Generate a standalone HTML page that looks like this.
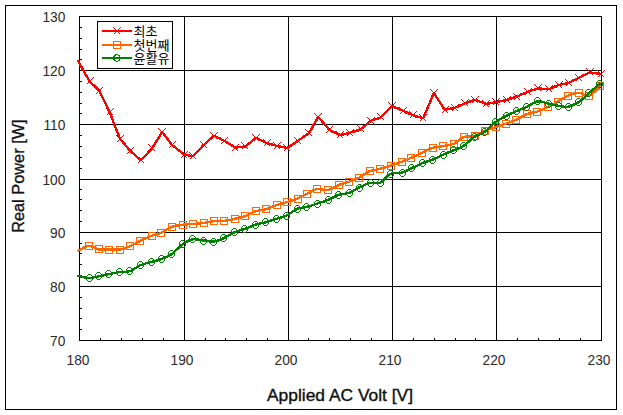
<!DOCTYPE html><html><head><meta charset="utf-8"><title>chart</title>
<style>html,body{margin:0;padding:0;background:#fff;overflow:hidden}svg{display:block}text{font-family:"Liberation Sans",sans-serif;fill:#111}</style></head><body>
<svg width="623" height="415" viewBox="0 0 623 415">
<rect x="0" y="0" width="623" height="415" fill="#fff"/>
<g shape-rendering="crispEdges" stroke="#000" stroke-width="1" fill="none">
<rect x="5.5" y="5.5" width="611" height="404"/>
<line x1="184.5" y1="16.5" x2="184.5" y2="340.5"/>
<line x1="288.5" y1="16.5" x2="288.5" y2="340.5"/>
<line x1="392.5" y1="16.5" x2="392.5" y2="340.5"/>
<line x1="496.5" y1="16.5" x2="496.5" y2="340.5"/>
<line x1="79.5" y1="70.5" x2="601.5" y2="70.5"/>
<line x1="79.5" y1="124.5" x2="601.5" y2="124.5"/>
<line x1="79.5" y1="179.5" x2="601.5" y2="179.5"/>
<line x1="79.5" y1="232.5" x2="601.5" y2="232.5"/>
<line x1="79.5" y1="286.5" x2="601.5" y2="286.5"/>
<line x1="80.0" y1="27.5" x2="82.0" y2="27.5"/>
<line x1="80.0" y1="38.5" x2="82.0" y2="38.5"/>
<line x1="80.0" y1="49.5" x2="82.0" y2="49.5"/>
<line x1="80.0" y1="59.5" x2="82.0" y2="59.5"/>
<line x1="80.0" y1="81.5" x2="82.0" y2="81.5"/>
<line x1="80.0" y1="92.5" x2="82.0" y2="92.5"/>
<line x1="80.0" y1="103.5" x2="82.0" y2="103.5"/>
<line x1="80.0" y1="113.5" x2="82.0" y2="113.5"/>
<line x1="80.0" y1="135.5" x2="82.0" y2="135.5"/>
<line x1="80.0" y1="146.5" x2="82.0" y2="146.5"/>
<line x1="80.0" y1="157.5" x2="82.0" y2="157.5"/>
<line x1="80.0" y1="168.5" x2="82.0" y2="168.5"/>
<line x1="80.0" y1="189.5" x2="82.0" y2="189.5"/>
<line x1="80.0" y1="199.5" x2="82.0" y2="199.5"/>
<line x1="80.0" y1="210.5" x2="82.0" y2="210.5"/>
<line x1="80.0" y1="221.5" x2="82.0" y2="221.5"/>
<line x1="80.0" y1="243.5" x2="82.0" y2="243.5"/>
<line x1="80.0" y1="253.5" x2="82.0" y2="253.5"/>
<line x1="80.0" y1="264.5" x2="82.0" y2="264.5"/>
<line x1="80.0" y1="275.5" x2="82.0" y2="275.5"/>
<line x1="80.0" y1="297.5" x2="82.0" y2="297.5"/>
<line x1="80.0" y1="308.5" x2="82.0" y2="308.5"/>
<line x1="80.0" y1="318.5" x2="82.0" y2="318.5"/>
<line x1="80.0" y1="329.5" x2="82.0" y2="329.5"/>
<line x1="100.5" y1="340.0" x2="100.5" y2="338.0"/>
<line x1="121.5" y1="340.0" x2="121.5" y2="338.0"/>
<line x1="142.5" y1="340.0" x2="142.5" y2="338.0"/>
<line x1="163.5" y1="340.0" x2="163.5" y2="338.0"/>
<line x1="205.5" y1="340.0" x2="205.5" y2="338.0"/>
<line x1="225.5" y1="340.0" x2="225.5" y2="338.0"/>
<line x1="246.5" y1="340.0" x2="246.5" y2="338.0"/>
<line x1="267.5" y1="340.0" x2="267.5" y2="338.0"/>
<line x1="308.5" y1="340.0" x2="308.5" y2="338.0"/>
<line x1="329.5" y1="340.0" x2="329.5" y2="338.0"/>
<line x1="350.5" y1="340.0" x2="350.5" y2="338.0"/>
<line x1="371.5" y1="340.0" x2="371.5" y2="338.0"/>
<line x1="413.5" y1="340.0" x2="413.5" y2="338.0"/>
<line x1="434.5" y1="340.0" x2="434.5" y2="338.0"/>
<line x1="455.5" y1="340.0" x2="455.5" y2="338.0"/>
<line x1="475.5" y1="340.0" x2="475.5" y2="338.0"/>
<line x1="517.5" y1="340.0" x2="517.5" y2="338.0"/>
<line x1="538.5" y1="340.0" x2="538.5" y2="338.0"/>
<line x1="559.5" y1="340.0" x2="559.5" y2="338.0"/>
<line x1="580.5" y1="340.0" x2="580.5" y2="338.0"/>
<rect x="79.5" y="16.5" width="522.0" height="324.0"/>
</g>
<clipPath id="pc"><rect x="76.5" y="16.0" width="530.5" height="325.0"/></clipPath>
<g clip-path="url(#pc)" fill="none" shape-rendering="crispEdges">
<path d="M78.3,61.3 L89.5,81.4 L99.3,90.7 L109.6,112.2 L119.9,138.7 L130.1,150.8 L140.9,160.2 L152.1,148.4 L162.2,131.8 L172.1,145.0 L184.4,154.7 L192.7,156.1 L204.0,144.7 L214.0,135.7 L223.8,140.5 L235.4,147.7 L245.4,146.4 L256.0,137.8 L266.5,143.1 L277.0,145.9 L287.4,148.0 L298.0,140.8 L309.0,133.0 L318.2,116.9 L329.4,129.9 L340.4,135.1 L350.0,132.7 L361.0,129.2 L370.9,120.7 L380.8,117.4 L392.1,105.8 L402.9,110.8 L413.0,115.2 L423.1,118.3 L433.9,93.2 L444.7,109.7 L454.9,107.9 L464.8,103.4 L475.0,99.7 L485.9,103.9 L496.3,102.2 L506.8,99.8 L516.9,96.5 L527.5,92.0 L537.9,88.3 L548.5,89.3 L559.1,84.9 L568.7,83.0 L579.0,77.9 L589.8,72.4 L601.3,74.1" stroke="#ff0000" stroke-width="2.4" stroke-linejoin="round" stroke-linecap="round"/>
<path d="M86.5,77.5 L93.5,84.5 M86.5,84.5 L93.5,77.5" stroke="#ff0000" stroke-width="1" fill="none"/><path d="M95.5,87.5 L102.5,94.5 M95.5,94.5 L102.5,87.5" stroke="#ff0000" stroke-width="1" fill="none"/><path d="M106.5,108.5 L113.5,115.5 M106.5,115.5 L113.5,108.5" stroke="#ff0000" stroke-width="1" fill="none"/><path d="M116.5,135.5 L123.5,142.5 M116.5,142.5 L123.5,135.5" stroke="#ff0000" stroke-width="1" fill="none"/><path d="M126.5,147.5 L133.5,154.5 M126.5,154.5 L133.5,147.5" stroke="#ff0000" stroke-width="1" fill="none"/><path d="M137.5,156.5 L144.5,163.5 M137.5,163.5 L144.5,156.5" stroke="#ff0000" stroke-width="1" fill="none"/><path d="M148.5,144.5 L155.5,151.5 M148.5,151.5 L155.5,144.5" stroke="#ff0000" stroke-width="1" fill="none"/><path d="M158.5,128.5 L165.5,135.5 M158.5,135.5 L165.5,128.5" stroke="#ff0000" stroke-width="1" fill="none"/><path d="M168.5,141.5 L175.5,148.5 M168.5,148.5 L175.5,141.5" stroke="#ff0000" stroke-width="1" fill="none"/><path d="M180.5,151.5 L187.5,158.5 M180.5,158.5 L187.5,151.5" stroke="#ff0000" stroke-width="1" fill="none"/><path d="M189.5,152.5 L196.5,159.5 M189.5,159.5 L196.5,152.5" stroke="#ff0000" stroke-width="1" fill="none"/><path d="M200.5,141.5 L207.5,148.5 M200.5,148.5 L207.5,141.5" stroke="#ff0000" stroke-width="1" fill="none"/><path d="M210.5,132.5 L217.5,139.5 M210.5,139.5 L217.5,132.5" stroke="#ff0000" stroke-width="1" fill="none"/><path d="M220.5,137.5 L227.5,144.5 M220.5,144.5 L227.5,137.5" stroke="#ff0000" stroke-width="1" fill="none"/><path d="M231.5,144.5 L238.5,151.5 M231.5,151.5 L238.5,144.5" stroke="#ff0000" stroke-width="1" fill="none"/><path d="M241.5,142.5 L248.5,149.5 M241.5,149.5 L248.5,142.5" stroke="#ff0000" stroke-width="1" fill="none"/><path d="M252.5,134.5 L259.5,141.5 M252.5,141.5 L259.5,134.5" stroke="#ff0000" stroke-width="1" fill="none"/><path d="M263.5,139.5 L270.5,146.5 M263.5,146.5 L270.5,139.5" stroke="#ff0000" stroke-width="1" fill="none"/><path d="M273.5,142.5 L280.5,149.5 M273.5,149.5 L280.5,142.5" stroke="#ff0000" stroke-width="1" fill="none"/><path d="M283.5,144.5 L290.5,151.5 M283.5,151.5 L290.5,144.5" stroke="#ff0000" stroke-width="1" fill="none"/><path d="M294.5,137.5 L301.5,144.5 M294.5,144.5 L301.5,137.5" stroke="#ff0000" stroke-width="1" fill="none"/><path d="M305.5,129.5 L312.5,136.5 M305.5,136.5 L312.5,129.5" stroke="#ff0000" stroke-width="1" fill="none"/><path d="M314.5,113.5 L321.5,120.5 M314.5,120.5 L321.5,113.5" stroke="#ff0000" stroke-width="1" fill="none"/><path d="M325.5,126.5 L332.5,133.5 M325.5,133.5 L332.5,126.5" stroke="#ff0000" stroke-width="1" fill="none"/><path d="M336.5,131.5 L343.5,138.5 M336.5,138.5 L343.5,131.5" stroke="#ff0000" stroke-width="1" fill="none"/><path d="M346.5,129.5 L353.5,136.5 M346.5,136.5 L353.5,129.5" stroke="#ff0000" stroke-width="1" fill="none"/><path d="M357.5,125.5 L364.5,132.5 M357.5,132.5 L364.5,125.5" stroke="#ff0000" stroke-width="1" fill="none"/><path d="M367.5,117.5 L374.5,124.5 M367.5,124.5 L374.5,117.5" stroke="#ff0000" stroke-width="1" fill="none"/><path d="M377.5,113.5 L384.5,120.5 M377.5,120.5 L384.5,113.5" stroke="#ff0000" stroke-width="1" fill="none"/><path d="M388.5,102.5 L395.5,109.5 M388.5,109.5 L395.5,102.5" stroke="#ff0000" stroke-width="1" fill="none"/><path d="M399.5,107.5 L406.5,114.5 M399.5,114.5 L406.5,107.5" stroke="#ff0000" stroke-width="1" fill="none"/><path d="M409.5,111.5 L416.5,118.5 M409.5,118.5 L416.5,111.5" stroke="#ff0000" stroke-width="1" fill="none"/><path d="M419.5,114.5 L426.5,121.5 M419.5,121.5 L426.5,114.5" stroke="#ff0000" stroke-width="1" fill="none"/><path d="M430.5,89.5 L437.5,96.5 M430.5,96.5 L437.5,89.5" stroke="#ff0000" stroke-width="1" fill="none"/><path d="M441.5,106.5 L448.5,113.5 M441.5,113.5 L448.5,106.5" stroke="#ff0000" stroke-width="1" fill="none"/><path d="M451.5,104.5 L458.5,111.5 M451.5,111.5 L458.5,104.5" stroke="#ff0000" stroke-width="1" fill="none"/><path d="M461.5,99.5 L468.5,106.5 M461.5,106.5 L468.5,99.5" stroke="#ff0000" stroke-width="1" fill="none"/><path d="M471.5,96.5 L478.5,103.5 M471.5,103.5 L478.5,96.5" stroke="#ff0000" stroke-width="1" fill="none"/><path d="M482.5,100.5 L489.5,107.5 M482.5,107.5 L489.5,100.5" stroke="#ff0000" stroke-width="1" fill="none"/><path d="M492.5,98.5 L499.5,105.5 M492.5,105.5 L499.5,98.5" stroke="#ff0000" stroke-width="1" fill="none"/><path d="M503.5,96.5 L510.5,103.5 M503.5,103.5 L510.5,96.5" stroke="#ff0000" stroke-width="1" fill="none"/><path d="M513.5,93.5 L520.5,100.5 M513.5,100.5 L520.5,93.5" stroke="#ff0000" stroke-width="1" fill="none"/><path d="M524.5,88.5 L531.5,95.5 M524.5,95.5 L531.5,88.5" stroke="#ff0000" stroke-width="1" fill="none"/><path d="M534.5,84.5 L541.5,91.5 M534.5,91.5 L541.5,84.5" stroke="#ff0000" stroke-width="1" fill="none"/><path d="M545.5,85.5 L552.5,92.5 M545.5,92.5 L552.5,85.5" stroke="#ff0000" stroke-width="1" fill="none"/><path d="M555.5,81.5 L562.5,88.5 M555.5,88.5 L562.5,81.5" stroke="#ff0000" stroke-width="1" fill="none"/><path d="M565.5,79.5 L572.5,86.5 M565.5,86.5 L572.5,79.5" stroke="#ff0000" stroke-width="1" fill="none"/><path d="M575.5,74.5 L582.5,81.5 M575.5,81.5 L582.5,74.5" stroke="#ff0000" stroke-width="1" fill="none"/><path d="M586.5,68.5 L593.5,75.5 M586.5,75.5 L593.5,68.5" stroke="#ff0000" stroke-width="1" fill="none"/><path d="M597.5,70.5 L604.5,77.5 M597.5,77.5 L604.5,70.5" stroke="#ff0000" stroke-width="1" fill="none"/>
<path d="M78.5,250.6 C80.2,249.8 85.6,246.0 89.0,245.8 C92.4,245.6 95.6,248.8 98.9,249.4 C102.2,250.0 105.1,249.5 108.6,249.5 C112.0,249.5 116.0,250.0 119.6,249.5 C123.2,249.0 126.5,247.8 130.0,246.3 C133.5,244.8 136.8,242.6 140.4,240.8 C144.0,239.0 148.3,237.0 151.7,235.7 C155.1,234.4 157.7,234.4 161.0,232.9 C164.3,231.4 167.9,228.3 171.6,226.9 C175.2,225.5 179.3,225.2 182.9,224.7 C186.5,224.2 189.6,224.3 193.1,224.0 C196.6,223.7 200.3,223.5 203.8,223.0 C207.3,222.5 210.6,221.5 214.0,221.1 C217.4,220.7 220.7,221.2 224.2,220.8 C227.7,220.4 231.5,219.6 235.0,218.8 C238.5,218.0 241.8,217.4 245.2,216.1 C248.6,214.8 252.3,212.3 255.7,211.2 C259.1,210.1 262.2,210.3 265.8,209.3 C269.4,208.3 273.5,206.2 277.0,205.0 C280.5,203.8 283.4,203.2 286.8,202.1 C290.2,201.0 294.1,199.9 297.5,198.5 C300.9,197.1 303.6,195.4 306.9,193.8 C310.2,192.2 313.7,189.6 317.2,189.0 C320.7,188.4 324.4,190.8 328.0,190.1 C331.6,189.4 335.4,186.4 338.9,185.0 C342.4,183.6 345.6,182.9 349.0,181.7 C352.4,180.5 355.7,179.3 359.1,177.6 C362.6,175.8 366.2,172.6 369.7,171.2 C373.1,169.8 376.3,169.8 379.8,168.9 C383.3,168.0 387.1,166.9 390.7,165.7 C394.3,164.5 398.2,163.1 401.6,161.8 C405.0,160.5 407.6,159.4 411.0,157.9 C414.4,156.4 418.5,154.5 422.1,152.8 C425.8,151.1 429.4,148.9 432.9,147.8 C436.4,146.7 439.6,146.8 443.0,146.1 C446.4,145.4 450.1,145.4 453.6,143.9 C457.1,142.4 460.5,138.2 464.0,136.9 C467.5,135.6 471.1,137.1 474.5,136.1 C477.9,135.1 481.1,132.3 484.6,130.8 C488.1,129.3 492.1,128.4 495.7,127.2 C499.3,126.0 502.7,124.8 506.1,123.6 C509.5,122.4 512.8,121.5 516.2,119.9 C519.6,118.3 523.2,115.5 526.7,114.1 C530.2,112.7 533.6,112.9 537.1,111.7 C540.6,110.5 544.5,108.4 548.0,106.7 C551.5,105.0 554.7,103.3 558.0,101.5 C561.3,99.7 564.6,97.1 568.0,95.6 C571.4,94.1 575.1,92.7 578.6,92.7 C582.1,92.7 585.2,96.8 588.8,95.8 C592.4,94.8 598.3,88.0 600.2,86.4" stroke="#ff6600" stroke-width="2.4" stroke-linecap="round"/>
<rect x="85.5" y="242.5" width="7.0" height="7.0" stroke="#ff6600" stroke-width="1" fill="none"/><rect x="95.5" y="245.5" width="7.0" height="7.0" stroke="#ff6600" stroke-width="1" fill="none"/><rect x="105.5" y="246.5" width="7.0" height="7.0" stroke="#ff6600" stroke-width="1" fill="none"/><rect x="116.5" y="246.5" width="7.0" height="7.0" stroke="#ff6600" stroke-width="1" fill="none"/><rect x="126.5" y="242.5" width="7.0" height="7.0" stroke="#ff6600" stroke-width="1" fill="none"/><rect x="136.5" y="237.5" width="7.0" height="7.0" stroke="#ff6600" stroke-width="1" fill="none"/><rect x="148.5" y="232.5" width="7.0" height="7.0" stroke="#ff6600" stroke-width="1" fill="none"/><rect x="157.5" y="229.5" width="7.0" height="7.0" stroke="#ff6600" stroke-width="1" fill="none"/><rect x="168.5" y="223.5" width="7.0" height="7.0" stroke="#ff6600" stroke-width="1" fill="none"/><rect x="179.5" y="221.5" width="7.0" height="7.0" stroke="#ff6600" stroke-width="1" fill="none"/><rect x="189.5" y="220.5" width="7.0" height="7.0" stroke="#ff6600" stroke-width="1" fill="none"/><rect x="200.5" y="219.5" width="7.0" height="7.0" stroke="#ff6600" stroke-width="1" fill="none"/><rect x="210.5" y="217.5" width="7.0" height="7.0" stroke="#ff6600" stroke-width="1" fill="none"/><rect x="220.5" y="217.5" width="7.0" height="7.0" stroke="#ff6600" stroke-width="1" fill="none"/><rect x="231.5" y="215.5" width="7.0" height="7.0" stroke="#ff6600" stroke-width="1" fill="none"/><rect x="241.5" y="212.5" width="7.0" height="7.0" stroke="#ff6600" stroke-width="1" fill="none"/><rect x="252.5" y="207.5" width="7.0" height="7.0" stroke="#ff6600" stroke-width="1" fill="none"/><rect x="262.5" y="205.5" width="7.0" height="7.0" stroke="#ff6600" stroke-width="1" fill="none"/><rect x="273.5" y="201.5" width="7.0" height="7.0" stroke="#ff6600" stroke-width="1" fill="none"/><rect x="283.5" y="198.5" width="7.0" height="7.0" stroke="#ff6600" stroke-width="1" fill="none"/><rect x="294.5" y="195.5" width="7.0" height="7.0" stroke="#ff6600" stroke-width="1" fill="none"/><rect x="303.5" y="190.5" width="7.0" height="7.0" stroke="#ff6600" stroke-width="1" fill="none"/><rect x="313.5" y="185.5" width="7.0" height="7.0" stroke="#ff6600" stroke-width="1" fill="none"/><rect x="324.5" y="186.5" width="7.0" height="7.0" stroke="#ff6600" stroke-width="1" fill="none"/><rect x="335.5" y="181.5" width="7.0" height="7.0" stroke="#ff6600" stroke-width="1" fill="none"/><rect x="345.5" y="178.5" width="7.0" height="7.0" stroke="#ff6600" stroke-width="1" fill="none"/><rect x="355.5" y="174.5" width="7.0" height="7.0" stroke="#ff6600" stroke-width="1" fill="none"/><rect x="366.5" y="167.5" width="7.0" height="7.0" stroke="#ff6600" stroke-width="1" fill="none"/><rect x="376.5" y="165.5" width="7.0" height="7.0" stroke="#ff6600" stroke-width="1" fill="none"/><rect x="387.5" y="162.5" width="7.0" height="7.0" stroke="#ff6600" stroke-width="1" fill="none"/><rect x="398.5" y="158.5" width="7.0" height="7.0" stroke="#ff6600" stroke-width="1" fill="none"/><rect x="407.5" y="154.5" width="7.0" height="7.0" stroke="#ff6600" stroke-width="1" fill="none"/><rect x="418.5" y="149.5" width="7.0" height="7.0" stroke="#ff6600" stroke-width="1" fill="none"/><rect x="429.5" y="144.5" width="7.0" height="7.0" stroke="#ff6600" stroke-width="1" fill="none"/><rect x="439.5" y="142.5" width="7.0" height="7.0" stroke="#ff6600" stroke-width="1" fill="none"/><rect x="450.5" y="140.5" width="7.0" height="7.0" stroke="#ff6600" stroke-width="1" fill="none"/><rect x="460.5" y="133.5" width="7.0" height="7.0" stroke="#ff6600" stroke-width="1" fill="none"/><rect x="471.5" y="132.5" width="7.0" height="7.0" stroke="#ff6600" stroke-width="1" fill="none"/><rect x="481.5" y="127.5" width="7.0" height="7.0" stroke="#ff6600" stroke-width="1" fill="none"/><rect x="492.5" y="123.5" width="7.0" height="7.0" stroke="#ff6600" stroke-width="1" fill="none"/><rect x="502.5" y="120.5" width="7.0" height="7.0" stroke="#ff6600" stroke-width="1" fill="none"/><rect x="512.5" y="116.5" width="7.0" height="7.0" stroke="#ff6600" stroke-width="1" fill="none"/><rect x="523.5" y="110.5" width="7.0" height="7.0" stroke="#ff6600" stroke-width="1" fill="none"/><rect x="533.5" y="108.5" width="7.0" height="7.0" stroke="#ff6600" stroke-width="1" fill="none"/><rect x="544.5" y="103.5" width="7.0" height="7.0" stroke="#ff6600" stroke-width="1" fill="none"/><rect x="554.5" y="98.5" width="7.0" height="7.0" stroke="#ff6600" stroke-width="1" fill="none"/><rect x="564.5" y="92.5" width="7.0" height="7.0" stroke="#ff6600" stroke-width="1" fill="none"/><rect x="575.5" y="89.5" width="7.0" height="7.0" stroke="#ff6600" stroke-width="1" fill="none"/><rect x="585.5" y="92.5" width="7.0" height="7.0" stroke="#ff6600" stroke-width="1" fill="none"/><rect x="596.5" y="82.5" width="7.0" height="7.0" stroke="#ff6600" stroke-width="1" fill="none"/>
<path d="M78.5,276.0 C80.2,276.4 85.6,278.0 89.0,278.1 C92.4,278.1 95.6,276.9 98.9,276.3 C102.2,275.7 105.1,274.9 108.6,274.2 C112.0,273.5 116.1,272.6 119.6,272.1 C123.1,271.6 126.3,272.3 129.8,271.2 C133.3,270.1 136.9,266.7 140.4,265.2 C143.9,263.7 147.6,263.0 151.0,262.0 C154.4,261.0 157.6,260.5 161.0,259.2 C164.4,257.9 168.0,256.7 171.6,254.2 C175.2,251.7 179.0,246.8 182.5,244.3 C186.0,241.8 189.0,240.0 192.6,239.4 C196.2,238.8 200.3,240.2 203.8,240.5 C207.3,240.8 210.3,241.9 213.6,241.5 C216.9,241.1 220.2,239.8 223.7,238.2 C227.2,236.6 231.2,233.6 234.7,232.1 C238.2,230.6 241.3,230.2 244.8,229.0 C248.3,227.8 252.3,225.8 255.7,224.7 C259.1,223.6 261.9,223.3 265.4,222.3 C268.9,221.3 273.0,219.9 276.5,218.8 C280.0,217.7 282.9,217.3 286.4,215.6 C289.8,213.9 293.8,210.2 297.2,208.8 C300.6,207.3 303.6,207.8 306.9,206.9 C310.2,206.0 313.7,204.8 317.2,203.6 C320.7,202.4 324.4,201.5 328.0,200.0 C331.6,198.5 335.3,196.0 338.9,194.8 C342.4,193.6 345.9,194.0 349.3,192.8 C352.7,191.6 355.7,189.2 359.1,187.5 C362.6,185.8 366.5,183.7 370.0,182.9 C373.5,182.1 376.7,184.3 380.1,182.8 C383.6,181.3 387.1,175.4 390.7,173.7 C394.3,172.0 398.6,173.4 402.0,172.5 C405.4,171.6 407.8,169.9 411.2,168.4 C414.6,166.9 418.5,164.8 422.1,163.3 C425.7,161.8 429.4,161.0 432.9,159.6 C436.4,158.2 439.6,156.3 443.0,154.7 C446.4,153.1 450.2,151.7 453.6,150.2 C457.1,148.7 460.2,148.0 463.7,145.8 C467.2,143.6 470.9,139.1 474.4,136.8 C477.8,134.5 480.8,134.5 484.4,132.0 C487.9,129.5 492.1,124.7 495.7,122.0 C499.3,119.3 502.6,117.8 506.0,116.0 C509.4,114.2 512.5,112.8 516.0,111.3 C519.5,109.8 523.2,108.7 526.7,107.0 C530.2,105.3 533.7,102.0 537.2,101.4 C540.8,100.8 544.5,102.8 548.0,103.5 C551.5,104.2 554.7,105.3 558.0,105.8 C561.3,106.3 564.6,107.3 568.0,106.7 C571.4,106.1 575.1,104.3 578.6,102.1 C582.1,99.9 585.3,96.4 588.8,93.3 C592.3,90.2 598.0,85.3 599.8,83.7" stroke="#008000" stroke-width="2.4" stroke-linecap="round"/>
<ellipse cx="89.5" cy="278.0" rx="3.0" ry="3.5" stroke="#008000" stroke-width="1" fill="none"/><ellipse cx="98.5" cy="276.0" rx="3.0" ry="3.5" stroke="#008000" stroke-width="1" fill="none"/><ellipse cx="108.5" cy="274.0" rx="3.0" ry="3.5" stroke="#008000" stroke-width="1" fill="none"/><ellipse cx="119.5" cy="272.0" rx="3.0" ry="3.5" stroke="#008000" stroke-width="1" fill="none"/><ellipse cx="129.5" cy="271.0" rx="3.0" ry="3.5" stroke="#008000" stroke-width="1" fill="none"/><ellipse cx="140.5" cy="265.0" rx="3.0" ry="3.5" stroke="#008000" stroke-width="1" fill="none"/><ellipse cx="151.5" cy="262.0" rx="3.0" ry="3.5" stroke="#008000" stroke-width="1" fill="none"/><ellipse cx="161.5" cy="259.0" rx="3.0" ry="3.5" stroke="#008000" stroke-width="1" fill="none"/><ellipse cx="171.5" cy="254.0" rx="3.0" ry="3.5" stroke="#008000" stroke-width="1" fill="none"/><ellipse cx="182.5" cy="244.0" rx="3.0" ry="3.5" stroke="#008000" stroke-width="1" fill="none"/><ellipse cx="192.5" cy="239.0" rx="3.0" ry="3.5" stroke="#008000" stroke-width="1" fill="none"/><ellipse cx="203.5" cy="241.0" rx="3.0" ry="3.5" stroke="#008000" stroke-width="1" fill="none"/><ellipse cx="213.5" cy="242.0" rx="3.0" ry="3.5" stroke="#008000" stroke-width="1" fill="none"/><ellipse cx="223.5" cy="238.0" rx="3.0" ry="3.5" stroke="#008000" stroke-width="1" fill="none"/><ellipse cx="234.5" cy="232.0" rx="3.0" ry="3.5" stroke="#008000" stroke-width="1" fill="none"/><ellipse cx="244.5" cy="229.0" rx="3.0" ry="3.5" stroke="#008000" stroke-width="1" fill="none"/><ellipse cx="255.5" cy="225.0" rx="3.0" ry="3.5" stroke="#008000" stroke-width="1" fill="none"/><ellipse cx="265.5" cy="222.0" rx="3.0" ry="3.5" stroke="#008000" stroke-width="1" fill="none"/><ellipse cx="276.5" cy="219.0" rx="3.0" ry="3.5" stroke="#008000" stroke-width="1" fill="none"/><ellipse cx="286.5" cy="216.0" rx="3.0" ry="3.5" stroke="#008000" stroke-width="1" fill="none"/><ellipse cx="297.5" cy="209.0" rx="3.0" ry="3.5" stroke="#008000" stroke-width="1" fill="none"/><ellipse cx="306.5" cy="207.0" rx="3.0" ry="3.5" stroke="#008000" stroke-width="1" fill="none"/><ellipse cx="317.5" cy="204.0" rx="3.0" ry="3.5" stroke="#008000" stroke-width="1" fill="none"/><ellipse cx="328.5" cy="200.0" rx="3.0" ry="3.5" stroke="#008000" stroke-width="1" fill="none"/><ellipse cx="338.5" cy="195.0" rx="3.0" ry="3.5" stroke="#008000" stroke-width="1" fill="none"/><ellipse cx="349.5" cy="193.0" rx="3.0" ry="3.5" stroke="#008000" stroke-width="1" fill="none"/><ellipse cx="359.5" cy="188.0" rx="3.0" ry="3.5" stroke="#008000" stroke-width="1" fill="none"/><ellipse cx="370.5" cy="183.0" rx="3.0" ry="3.5" stroke="#008000" stroke-width="1" fill="none"/><ellipse cx="380.5" cy="183.0" rx="3.0" ry="3.5" stroke="#008000" stroke-width="1" fill="none"/><ellipse cx="390.5" cy="174.0" rx="3.0" ry="3.5" stroke="#008000" stroke-width="1" fill="none"/><ellipse cx="402.5" cy="173.0" rx="3.0" ry="3.5" stroke="#008000" stroke-width="1" fill="none"/><ellipse cx="411.5" cy="168.0" rx="3.0" ry="3.5" stroke="#008000" stroke-width="1" fill="none"/><ellipse cx="422.5" cy="163.0" rx="3.0" ry="3.5" stroke="#008000" stroke-width="1" fill="none"/><ellipse cx="432.5" cy="160.0" rx="3.0" ry="3.5" stroke="#008000" stroke-width="1" fill="none"/><ellipse cx="443.5" cy="155.0" rx="3.0" ry="3.5" stroke="#008000" stroke-width="1" fill="none"/><ellipse cx="453.5" cy="150.0" rx="3.0" ry="3.5" stroke="#008000" stroke-width="1" fill="none"/><ellipse cx="463.5" cy="146.0" rx="3.0" ry="3.5" stroke="#008000" stroke-width="1" fill="none"/><ellipse cx="474.5" cy="137.0" rx="3.0" ry="3.5" stroke="#008000" stroke-width="1" fill="none"/><ellipse cx="484.5" cy="132.0" rx="3.0" ry="3.5" stroke="#008000" stroke-width="1" fill="none"/><ellipse cx="495.5" cy="122.0" rx="3.0" ry="3.5" stroke="#008000" stroke-width="1" fill="none"/><ellipse cx="506.5" cy="116.0" rx="3.0" ry="3.5" stroke="#008000" stroke-width="1" fill="none"/><ellipse cx="516.5" cy="111.0" rx="3.0" ry="3.5" stroke="#008000" stroke-width="1" fill="none"/><ellipse cx="526.5" cy="107.0" rx="3.0" ry="3.5" stroke="#008000" stroke-width="1" fill="none"/><ellipse cx="537.5" cy="101.0" rx="3.0" ry="3.5" stroke="#008000" stroke-width="1" fill="none"/><ellipse cx="548.5" cy="104.0" rx="3.0" ry="3.5" stroke="#008000" stroke-width="1" fill="none"/><ellipse cx="558.5" cy="106.0" rx="3.0" ry="3.5" stroke="#008000" stroke-width="1" fill="none"/><ellipse cx="568.5" cy="107.0" rx="3.0" ry="3.5" stroke="#008000" stroke-width="1" fill="none"/><ellipse cx="578.5" cy="102.0" rx="3.0" ry="3.5" stroke="#008000" stroke-width="1" fill="none"/><ellipse cx="588.5" cy="93.0" rx="3.0" ry="3.5" stroke="#008000" stroke-width="1" fill="none"/><ellipse cx="599.5" cy="84.0" rx="3.0" ry="3.5" stroke="#008000" stroke-width="1" fill="none"/>
</g>
<rect x="97.5" y="21.5" width="75" height="47" fill="#fff" stroke="#000" stroke-width="1" shape-rendering="crispEdges"/>
<g fill="none" shape-rendering="crispEdges">
<line x1="102" y1="31.0" x2="132" y2="31.0" stroke="#ff0000" stroke-width="2"/>
<path d="M113.5,27.5 L120.5,34.5 M113.5,34.5 L120.5,27.5" stroke="#ff0000" stroke-width="1" fill="none"/>
<line x1="102" y1="44.5" x2="132" y2="44.5" stroke="#ff6600" stroke-width="2"/>
<rect x="113.5" y="41.0" width="7" height="7" stroke="#ff6600" fill="none"/>
<line x1="102" y1="58.0" x2="132" y2="58.0" stroke="#008000" stroke-width="2"/>
<circle cx="117" cy="58.0" r="3.2" stroke="#008000" fill="none"/>
</g>
<text x="133.6" y="36" font-size="13" textLength="24" lengthAdjust="spacingAndGlyphs" style="font-family:'Liberation Sans','Noto Sans CJK KR',sans-serif;fill:#000">최초</text>
<text x="133.6" y="49.5" font-size="13" textLength="36" lengthAdjust="spacingAndGlyphs" style="font-family:'Liberation Sans','Noto Sans CJK KR',sans-serif;fill:#000">첫번째</text>
<text x="133.6" y="63" font-size="13" textLength="36" lengthAdjust="spacingAndGlyphs" style="font-family:'Liberation Sans','Noto Sans CJK KR',sans-serif;fill:#000">윤활유</text>
<text transform="translate(65.3,21.9) scale(0.955,1)" font-size="14.4" text-anchor="end" style="fill:#2b2b2b">130</text>
<text transform="translate(65.3,75.9) scale(0.955,1)" font-size="14.4" text-anchor="end" style="fill:#2b2b2b">120</text>
<text transform="translate(65.3,129.9) scale(0.955,1)" font-size="14.4" text-anchor="end" style="fill:#2b2b2b">110</text>
<text transform="translate(65.3,184.9) scale(0.955,1)" font-size="14.4" text-anchor="end" style="fill:#2b2b2b">100</text>
<text transform="translate(65.3,237.9) scale(0.955,1)" font-size="14.4" text-anchor="end" style="fill:#2b2b2b">90</text>
<text transform="translate(65.3,291.9) scale(0.955,1)" font-size="14.4" text-anchor="end" style="fill:#2b2b2b">80</text>
<text transform="translate(65.3,345.9) scale(0.955,1)" font-size="14.4" text-anchor="end" style="fill:#2b2b2b">70</text>
<text transform="translate(78.0,364.7) scale(0.955,1)" font-size="14.4" text-anchor="middle" style="fill:#2b2b2b">180</text>
<text transform="translate(182.0,364.7) scale(0.955,1)" font-size="14.4" text-anchor="middle" style="fill:#2b2b2b">190</text>
<text transform="translate(286.0,364.7) scale(0.955,1)" font-size="14.4" text-anchor="middle" style="fill:#2b2b2b">200</text>
<text transform="translate(390.0,364.7) scale(0.955,1)" font-size="14.4" text-anchor="middle" style="fill:#2b2b2b">210</text>
<text transform="translate(494.0,364.7) scale(0.955,1)" font-size="14.4" text-anchor="middle" style="fill:#2b2b2b">220</text>
<text transform="translate(599.0,364.7) scale(0.955,1)" font-size="14.4" text-anchor="middle" style="fill:#2b2b2b">230</text>
<text x="340" y="401.0" font-size="16" stroke="#111" stroke-width="0.35" text-anchor="middle" textLength="146" lengthAdjust="spacingAndGlyphs">Applied AC Volt [V]</text>
<text transform="translate(23.5,176.1) rotate(-90)" font-size="16" stroke="#111" stroke-width="0.35" text-anchor="middle" textLength="113.5" lengthAdjust="spacingAndGlyphs">Real Power [W]</text>
</svg></body></html>
